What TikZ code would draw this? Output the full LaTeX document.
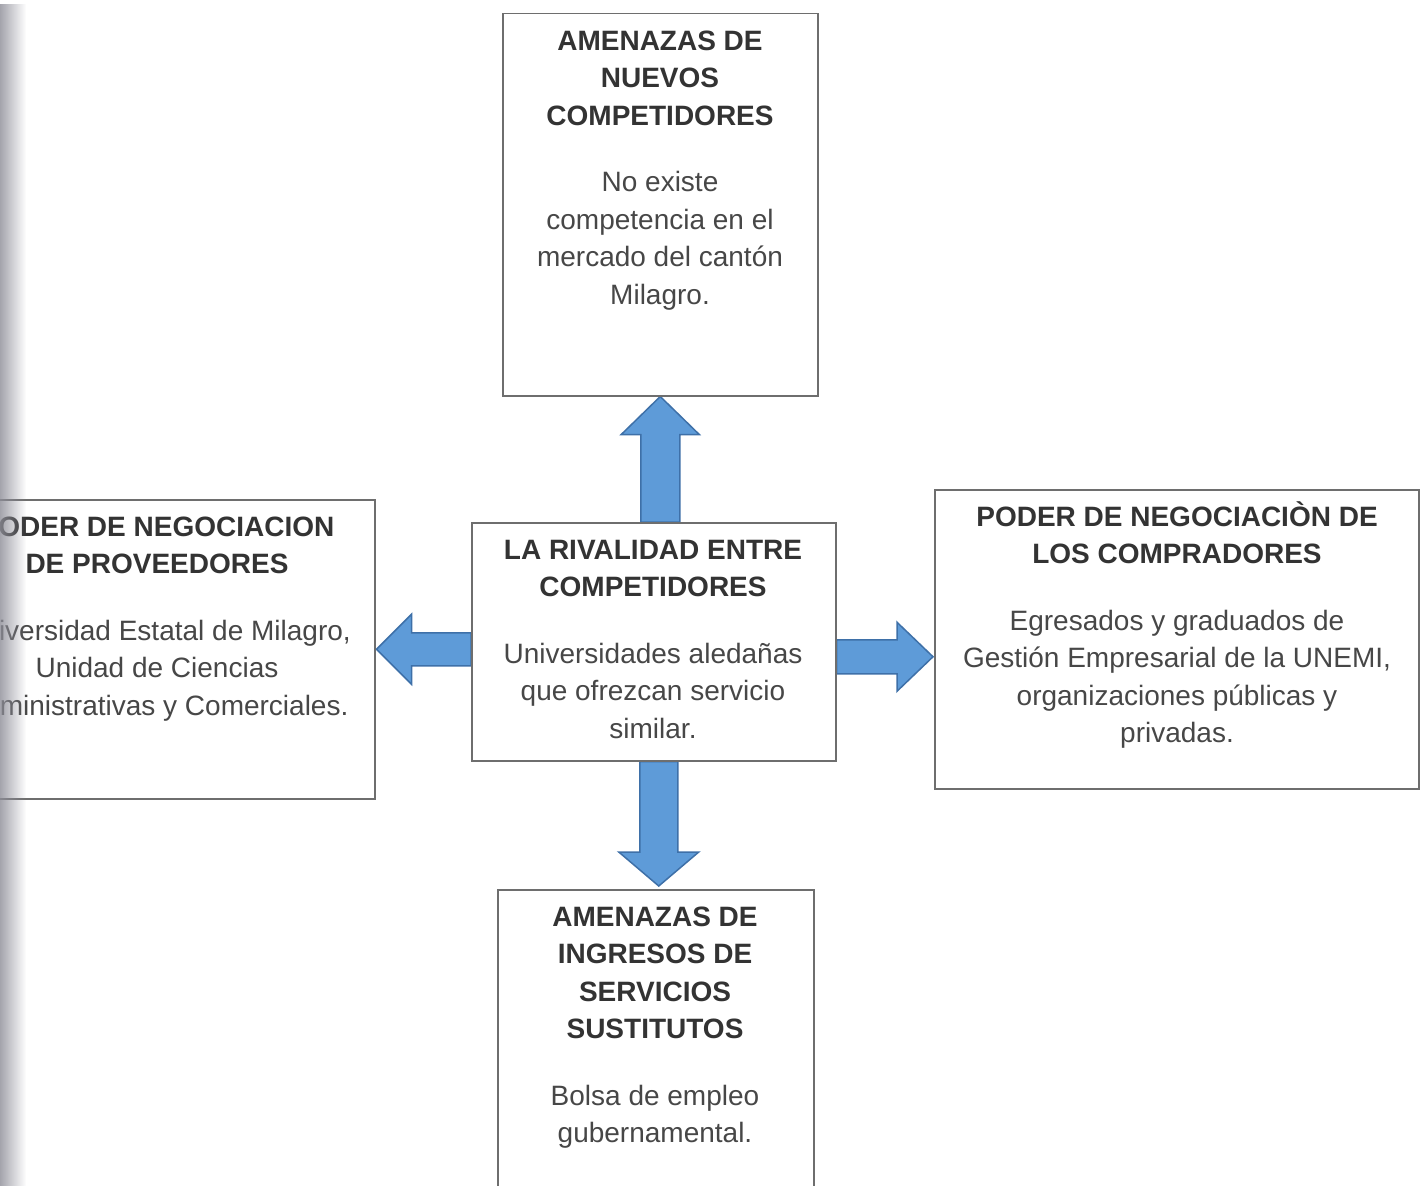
\documentclass[tikz,border=0pt]{standalone}
\usepackage{fontspec}
\setmainfont{Liberation Sans}
\usetikzlibrary{calc,fadings}
\definecolor{titc}{HTML}{333333}
\definecolor{bodyc}{HTML}{474747}
\definecolor{boxc}{HTML}{6E6E6E}
\definecolor{arrfill}{HTML}{5E9BD8}
\definecolor{arredge}{HTML}{3E70A8}
\definecolor{shadowc}{HTML}{8E8E98}
\newcommand\ttl[1]{{\bfseries\color{titc}#1}}
\newcommand\fst{\rule{0pt}{28pt}}
\tikzfading[name=fadeR, left color=transparent!20, right color=transparent!100]
\pgfdeclarelayer{bg}
\pgfdeclarelayer{arr}
\pgfdeclarelayer{topl}
\pgfsetlayers{bg,arr,main,topl}
\begin{document}
\begin{tikzpicture}[x=1pt,y=-1pt,
  box/.style={draw=boxc,line width=1.5pt,fill=white,inner sep=0,anchor=north west},
  txt/.style={anchor=north,inner sep=0,align=center,text=bodyc,font=\fontsize{28}{37.5}\selectfont},
  bigarrow/.style={fill=arrfill,draw=arredge,line width=1.5pt,line join=miter}]
\useasboundingbox (0,0) rectangle (1420,1185);
\begin{pgfonlayer}{bg}
\fill[white] (0,0) rectangle (1420,1185);
\end{pgfonlayer}

% boxes
\node[box,minimum width=315pt,minimum height=382pt] (top) at (502,13) {};
\node[box,minimum width=364pt,minimum height=238pt] (center) at (471,522) {};
\node[box,minimum width=484pt,minimum height=299pt] (right) at (934,489) {};
\node[box,minimum width=434pt,minimum height=299pt] (left) at (-60,499) {};
\node[box,minimum width=316pt,minimum height=330pt] (bottom) at (497,889) {};

% texts
\node[txt] (toptxt) at (660,22) {\fst\ttl{AMENAZAS DE}\\ \ttl{NUEVOS}\\ \ttl{COMPETIDORES}\\[29pt]
  No existe\\ competencia en el\\ mercado del cantón\\ Milagro.};
\node[txt] (centertxt) at (653,531) {\fst\ttl{LA RIVALIDAD ENTRE}\\ \ttl{COMPETIDORES}\\[29pt]
  Universidades aledañas\\ que ofrezcan servicio\\ similar.};
\node[txt] (righttxt) at (1177,498) {\fst\ttl{PODER DE NEGOCIACIÒN DE}\\ \ttl{LOS COMPRADORES}\\[29pt]
  Egresados y graduados de\\ Gestión Empresarial de la UNEMI,\\ organizaciones públicas y\\ privadas.};
\node[txt] (lefttxt) at (157,508) {\fst\ttl{PODER DE NEGOCIACION}\\ \ttl{DE PROVEEDORES}\\[29pt]
  Universidad Estatal de Milagro,\\ Unidad de Ciencias\\ Administrativas y Comerciales.};
\node[txt] (bottomtxt) at (655,898) {\fst\ttl{AMENAZAS DE}\\ \ttl{INGRESOS DE}\\ \ttl{SERVICIOS}\\ \ttl{SUSTITUTOS}\\[29pt]
  Bolsa de empleo\\ gubernamental.};

% arrows
\begin{pgfonlayer}{arr}
\draw[bigarrow] let \p1=(top.south), \p2=(center.north) in
  (\x1-19.5pt,\y2) -- (\x1-19.5pt,\y1-38pt) -- (\x1-39pt,\y1-38pt) -- (\x1,\y1)
  -- (\x1+39pt,\y1-38pt) -- (\x1+19.5pt,\y1-38pt) -- (\x1+19.5pt,\y2) -- cycle;
\draw[bigarrow] let \p1=(bottom.north), \p2=(center.south) in
  (\x1+3pt-19pt,\y2) -- (\x1+3pt-19pt,\y1+37pt) -- (\x1+3pt-40pt,\y1+37pt) -- (\x1+3pt,\y1+3pt)
  -- (\x1+3pt+40pt,\y1+37pt) -- (\x1+3pt+19pt,\y1+37pt) -- (\x1+3pt+19pt,\y2) -- cycle;
\draw[bigarrow] let \p1=(left.east), \p2=(center.west) in
  (\x2,\y1+16.5pt) -- (\x1+36pt,\y1+16.5pt) -- (\x1+36pt,\y1+35pt) -- (\x1+1pt,\y1)
  -- (\x1+36pt,\y1-35pt) -- (\x1+36pt,\y1-16.5pt) -- (\x2,\y1-16.5pt) -- cycle;
\draw[bigarrow] let \p1=(right.west), \p2=(center.east) in
  (\x2,\y1-0.5pt) -- (\x1-37pt,\y1-0.5pt) -- (\x1-37pt,\y1+17pt) -- (\x1-1pt,\y1-17.5pt)
  -- (\x1-37pt,\y1-52pt) -- (\x1-37pt,\y1-34.5pt) -- (\x2,\y1-34.5pt) -- cycle;
\end{pgfonlayer}

% scan shadow at the left edge
\begin{pgfonlayer}{topl}
\fill[shadowc, path fading=fadeR] (0,0) rectangle (26,1185);
\end{pgfonlayer}
\end{tikzpicture}
\end{document}
